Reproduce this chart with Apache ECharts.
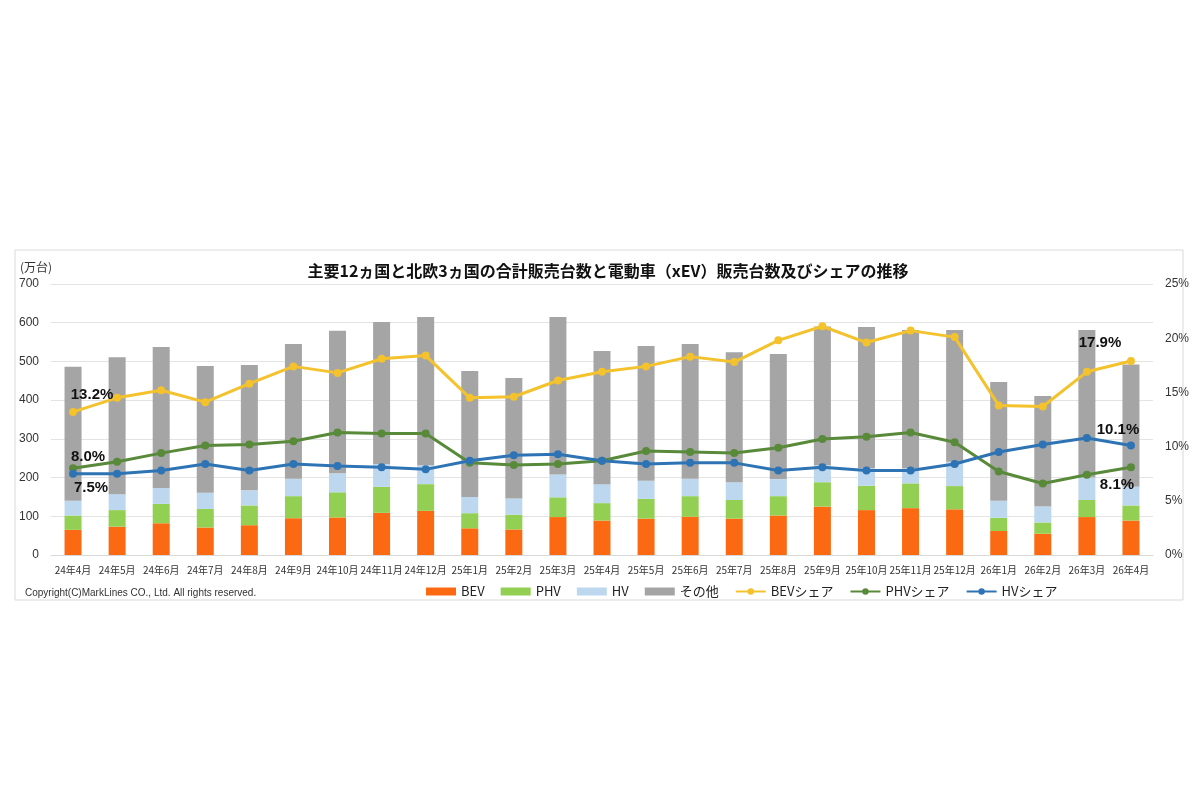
<!DOCTYPE html>
<html>
<head>
<meta charset="utf-8">
<script src="https://cdn.jsdelivr.net/npm/echarts@6/dist/echarts.min.js"></script>
<style>
  html, body { margin: 0; padding: 0; background: #fff; }
  #chart { width: 1199px; height: 800px; }
</style>
</head>
<body>
<div id="chart"></div>
<script>
// months on the x axis
const months = ['24年4月', '24年5月', '24年6月', '24年7月', '24年8月', '24年9月', '24年10月', '24年11月', '24年12月',
  '25年1月', '25年2月', '25年3月', '25年4月', '25年5月', '25年6月', '25年7月', '25年8月', '25年9月', '25年10月',
  '25年11月', '25年12月', '26年1月', '26年2月', '26年3月', '26年4月']

// sales, 万台
const bev = [65, 73, 82, 71, 77, 95, 97, 109, 114, 69, 66, 98, 89, 94, 99, 94, 102, 125, 116, 121, 118, 62, 55, 98, 89]
const phv = [37, 43, 50, 48, 51, 57, 65, 67, 69, 39, 38, 51, 45, 51, 53, 48, 50, 63, 63, 64, 60, 34, 29, 44, 39]
const hv = [38, 41, 41, 42, 39, 45, 49, 59, 49, 42, 42, 59, 49, 47, 45, 46, 44, 44, 45, 39, 63, 44, 41, 58, 48]
const other = [346, 354, 364, 327, 324, 348, 368, 367, 383, 325, 311, 407, 344, 348, 348, 336, 323, 358, 365, 357, 340, 307, 286, 381, 316]

// shares, %
const bevShare = [13.2, 14.5, 15.2, 14.1, 15.8, 17.4, 16.8, 18.1, 18.4, 14.5, 14.6, 16.1, 16.9, 17.4, 18.3, 17.8, 19.8, 21.1, 19.6, 20.7, 20.1, 13.8, 13.7, 16.9, 17.9]
const phvShare = [8.0, 8.6, 9.4, 10.1, 10.2, 10.5, 11.3, 11.2, 11.2, 8.5, 8.3, 8.4, 8.7, 9.6, 9.5, 9.4, 9.9, 10.7, 10.9, 11.3, 10.4, 7.7, 6.6, 7.4, 8.1]
const hvShare = [7.5, 7.5, 7.8, 8.4, 7.8, 8.4, 8.2, 8.1, 7.9, 8.7, 9.2, 9.3, 8.7, 8.4, 8.5, 8.5, 7.8, 8.1, 7.8, 7.8, 8.4, 9.5, 10.2, 10.8, 10.1]

const FONT = '"Noto Sans CJK JP", "Noto Sans", sans-serif'
const LATIN = '"Liberation Sans", Arial, sans-serif'
const last = months.length - 1

// end-point labels: [index, position, offset]
const bevLabels = [[0, 'top', [19, -1]], [last, 'top', [-31, -2]]]
const phvLabels = [[0, 'top', [15, 5]], [last, 'bottom', [-14, 1]]]
const hvLabels = [[0, 'bottom', [18, -2]], [last, 'top', [-13, 1]]]

const withLabels = (values, labels) => values.map((v, i) => {
  const hit = labels.find((l) => l[0] === i)
  if (!hit) return v
  return {
    value: v,
    label: {
      show: true,
      position: hit[1],
      offset: hit[2],
      formatter: (p) => p.value.toFixed(1) + '%',
      color: '#111',
      fontSize: 15,
      fontWeight: 'bold',
      fontFamily: LATIN,
    },
  }
})

const barSeries = (name, data, color) => ({
  name,
  type: 'bar',
  stack: 'total',
  barWidth: 17,
  yAxisIndex: 0,
  itemStyle: { color },
  emphasis: { disabled: true },
  data,
})

const lineSeries = (name, data, color) => ({
  name,
  type: 'line',
  yAxisIndex: 1,
  symbol: 'circle',
  symbolSize: 8,
  lineStyle: { width: 3, color },
  itemStyle: { color },
  z: 5,
  data,
})

const chart = echarts.init(document.getElementById('chart'))
chart.setOption({
  backgroundColor: '#fff',
  animation: false,
  textStyle: { fontFamily: FONT },
  title: {
    text: '主要12ヵ国と北欧3ヵ国の合計販売台数と電動車（xEV）販売台数及びシェアの推移',
    left: 603,
    top: 258,
    textAlign: 'center',
    textStyle: { fontSize: 16, fontWeight: 'bold', color: '#111', fontFamily: FONT },
  },
  graphic: [
    {
      type: 'rect',
      shape: { x: 15, y: 250, width: 1168, height: 350 },
      style: { fill: 'none', stroke: '#d9d9d9', lineWidth: 1 },
      silent: true,
    },
    {
      type: 'text',
      left: 20,
      top: 261,
      style: { text: '(万台)', fill: '#333', font: '12px ' + FONT },
    },
    {
      type: 'text',
      left: 25,
      top: 588,
      style: { text: 'Copyright(C)MarkLines CO., Ltd. All rights reserved.', fill: '#333', font: '10px ' + LATIN },
    },
  ],
  legend: {
    left: 421,
    top: 580,
    itemWidth: 30,
    itemHeight: 8,
    itemGap: 16,
    textStyle: { fontSize: 13, color: '#222', fontFamily: FONT },
    data: [
      { name: 'BEV', icon: 'rect' },
      { name: 'PHV', icon: 'rect' },
      { name: 'HV', icon: 'rect' },
      { name: 'その他', icon: 'rect' },
      'BEVシェア', 'PHVシェア', 'HVシェア',
    ],
  },
  grid: { left: 51, right: 46, top: 284, bottom: 245 },
  xAxis: {
    type: 'category',
    data: months,
    axisTick: { show: false },
    axisLine: { lineStyle: { color: '#d9d9d9' } },
    axisLabel: { interval: 0, fontSize: 10, color: '#333', margin: 10, fontFamily: FONT },
  },
  yAxis: [
    {
      type: 'value',
      min: 0,
      max: 700,
      interval: 100,
      axisLine: { show: false },
      axisTick: { show: false },
      splitLine: { lineStyle: { color: '#e3e3e3' } },
      axisLabel: { fontSize: 12, color: '#333', margin: 12, fontFamily: LATIN },
    },
    {
      type: 'value',
      min: 0,
      max: 25,
      interval: 5,
      position: 'right',
      axisLine: { show: false },
      axisTick: { show: false },
      splitLine: { show: false },
      axisLabel: { formatter: '{value}%', fontSize: 12, color: '#333', margin: 12, fontFamily: LATIN },
    },
  ],
  series: [
    barSeries('BEV', bev, '#FB6A12'),
    barSeries('PHV', phv, '#92CF52'),
    barSeries('HV', hv, '#BDD7EE'),
    barSeries('その他', other, '#A5A5A5'),
    lineSeries('BEVシェア', withLabels(bevShare, bevLabels), '#F3C22C'),
    lineSeries('PHVシェア', withLabels(phvShare, phvLabels), '#588A3A'),
    lineSeries('HVシェア', withLabels(hvShare, hvLabels), '#2E74B5'),
  ],
})
</script>
</body>
</html>
